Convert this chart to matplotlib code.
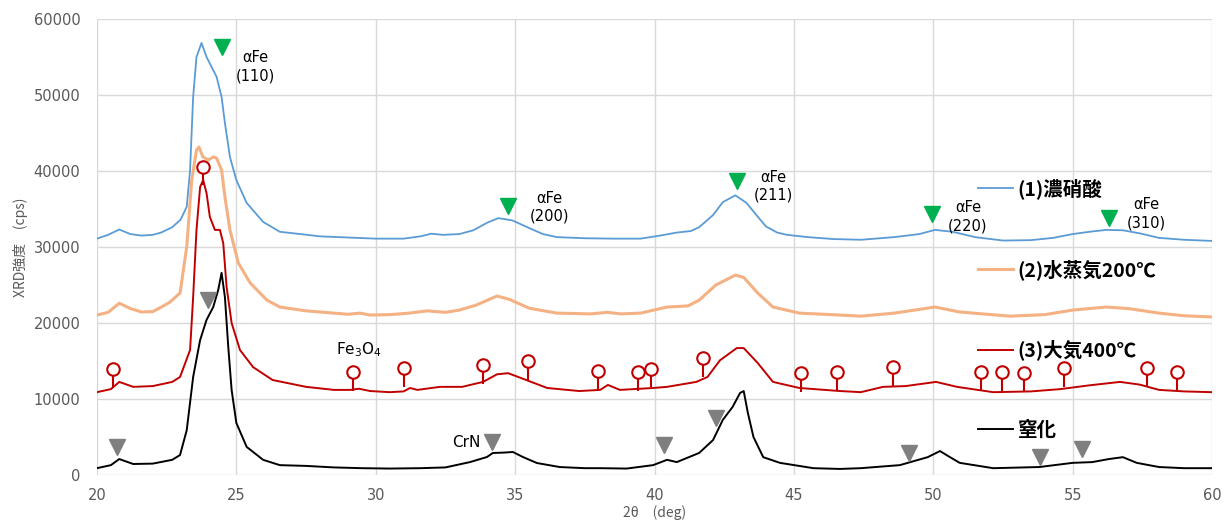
"""XRD patterns of nitrided / oxidised steel samples (2θ = 20-60 deg)."""

import matplotlib

matplotlib.use("Agg")
import matplotlib.pyplot as plt
from matplotlib.transforms import offset_copy

# (1) 濃硝酸
tt_1 = [20.0, 20.4, 20.8, 21.2, 21.6, 22.0, 22.3, 22.7, 23.0, 23.22, 23.34, 23.45, 23.57,
        23.75, 23.93, 24.11, 24.29, 24.47, 24.59, 24.77, 25.0, 25.37, 25.96, 26.56, 27.3,
        28.0, 29.0, 30.0, 31.0, 31.6, 32.0, 32.4, 33.0, 33.5, 34.0, 34.4, 34.9, 35.5, 36.0,
        36.5, 37.5, 38.5, 39.5, 40.2, 40.8, 41.3, 41.6, 42.1, 42.45, 42.9, 43.3, 43.7, 44.0,
        44.4, 44.75, 45.5, 46.4, 47.4, 48.6, 49.5, 50.06, 50.7, 51.5, 52.5, 53.5, 54.3, 55.0,
        55.6, 56.2, 56.8, 57.4, 58.1, 59.0, 60.0]
y_1 = [31100, 31600, 32300, 31700, 31500, 31600, 31900, 32600, 33600, 35300, 40130, 49750,
       55000, 56850, 55000, 53700, 52400, 49750, 46300, 41850, 38800, 35800, 33300, 32000,
       31700, 31400, 31250, 31100, 31100, 31400, 31750, 31600, 31700, 32200, 33200, 33800,
       33500, 32500, 31700, 31300, 31150, 31100, 31100, 31500, 31900, 32100, 32600, 34200,
       35900, 36800, 35800, 34000, 32700, 31900, 31600, 31300, 31050, 30950, 31300, 31700,
       32250, 32000, 31300, 30850, 30900, 31200, 31700, 32000, 32250, 32200, 31800, 31200,
       30950, 30800]

# (2) 水蒸気200℃
tt_2 = [20.0, 20.4, 20.8, 21.2, 21.6, 22.0, 22.26, 22.6, 22.98, 23.22, 23.4, 23.57, 23.66,
        23.8, 24.0, 24.17, 24.29, 24.47, 24.59, 24.77, 25.07, 25.5, 26.1, 26.56, 27.5, 28.5,
        29.0, 29.43, 29.8, 30.5, 31.2, 31.85, 32.5, 33.0, 33.6, 34.35, 34.8, 35.5, 36.5, 37.7,
        38.3, 38.8, 39.5, 40.45, 41.2, 41.6, 42.2, 42.9, 43.2, 43.7, 44.25, 45.2, 46.65, 47.4,
        48.6, 50.06, 50.95, 52.75, 54.0, 55.0, 56.2, 57.0, 58.1, 59.0, 60.0]
y_2 = [21050, 21400, 22600, 21900, 21450, 21500, 22000, 22700, 23950, 30000, 38800, 42750,
       43150, 41850, 41450, 41850, 41700, 40130, 36600, 32250, 27900, 25250, 23000, 22100,
       21600, 21300, 21150, 21300, 21050, 21100, 21300, 21600, 21400, 21700, 22350, 23550,
       23100, 21950, 21300, 21200, 21400, 21200, 21300, 22100, 22250, 23000, 25000, 26300,
       26000, 23950, 22100, 21300, 21050, 20900, 21300, 22100, 21450, 20900, 21100, 21700,
       22100, 21900, 21300, 20950, 20800]

# (3) 大気400℃
tt_3 = [20.0, 20.5, 20.8, 21.3, 22.0, 22.7, 22.98, 23.34, 23.45, 23.57, 23.7, 23.81, 23.93,
        24.05, 24.23, 24.41, 24.53, 24.65, 24.83, 25.13, 25.6, 26.3, 27.5, 28.5, 29.1, 29.4,
        29.8, 30.5, 31.0, 31.23, 31.5, 32.3, 33.1, 33.85, 34.35, 34.75, 35.4, 36.15, 37.3,
        38.05, 38.33, 38.76, 39.95, 40.45, 41.5, 41.9, 42.35, 42.95, 43.2, 43.7, 44.25, 45.2,
        46.65, 47.4, 48.2, 49.0, 50.1, 50.85, 52.15, 53.5, 54.55, 55.6, 56.7, 57.4, 58.1,
        59.0, 60.0]
y_3 = [10900, 11300, 12250, 11600, 11700, 12250, 12900, 16450, 23400, 32250, 37900, 38800,
       37100, 33950, 32250, 32250, 30500, 24750, 20000, 16450, 14200, 12500, 11600, 11200,
       11200, 11350, 11050, 10900, 11000, 11450, 11200, 11600, 11600, 12250, 13250, 13400,
       12500, 11450, 11050, 11200, 11850, 11200, 11450, 11600, 12250, 12900, 15100, 16700,
       16700, 14750, 12250, 11450, 11050, 10900, 11600, 11700, 12250, 11600, 10900, 11000,
       11300, 11800, 12250, 11900, 11200, 11000, 10900]

# 窒化
tt_4 = [20.0, 20.5, 20.8, 21.3, 22.0, 22.7, 22.98, 23.22, 23.45, 23.7, 23.93, 24.17, 24.35,
        24.47, 24.59, 24.71, 24.83, 25.0, 25.37, 25.96, 26.56, 27.5, 28.5, 29.5, 30.5, 31.6,
        32.5, 33.38, 33.99, 34.2, 34.6, 34.92, 35.28, 35.78, 36.6, 37.5, 38.05, 39.0, 39.95,
        40.45, 40.8, 41.6, 42.1, 42.45, 42.8, 43.07, 43.2, 43.35, 43.55, 43.9, 44.5, 45.7,
        46.65, 47.4, 48.8, 49.8, 50.24, 50.6, 50.95, 52.15, 53.8, 55.0, 55.7, 56.3, 56.8,
        57.3, 58.1, 59.0, 60.0]
y_4 = [900, 1300, 2100, 1450, 1500, 2000, 2630, 5900, 12900, 17750, 20400, 22100, 24350,
       26600, 23400, 16850, 11200, 6850, 3700, 2000, 1300, 1200, 1000, 900, 850, 900, 1000,
       1700, 2370, 2900, 2950, 3030, 2370, 1580, 1050, 900, 900, 850, 1300, 2000, 1700, 2900,
       4600, 7250, 8950, 10800, 11050, 8150, 5000, 2350, 1600, 900, 800, 900, 1300, 2350,
       3150, 2350, 1600, 900, 1050, 1600, 1700, 2100, 2350, 1600, 1050, 900, 900]

series_labels = ["(1)濃硝酸", "(2)水蒸気200℃", "(3)大気400℃", "窒化"]

# peak markers
fe_tt = [24.48, 34.74, 42.96, 49.95, 56.3]
fe_y = [56300, 35400, 38700, 34350, 33800]
fe_labels = ["αFe\n(110)", "αFe\n(200)", "αFe\n(211)", "αFe\n(220)", "αFe\n(310)"]

fe3o4_tt = [20.57, 23.80, 29.18, 31.01, 33.85, 35.46, 37.97, 39.41, 39.87, 41.74, 45.26,
            46.55, 48.56, 51.71, 52.47, 53.26, 54.69, 57.67, 58.74]
fe3o4_y = [13950, 40530, 13550, 14080, 14470, 15000, 13680, 13550, 13950, 15390, 13420,
           13550, 14210, 13550, 13550, 13420, 14080, 14080, 13550]

crn_tt = [20.72, 23.98, 34.17, 40.34, 42.21, 49.13, 53.83, 55.34]
crn_y = [3680, 23030, 4340, 3950, 7500, 2900, 2370, 3420]

CJK = ["Noto Sans CJK JP", "DejaVu Sans"]
GREY = "#595959"

fig = plt.figure(figsize=(12.29, 5.2), dpi=100)
ax = fig.add_axes([0.0789, 0.0865, 0.9073, 0.8770])

colors = ["#5B9BD5", "#F4B183", "#C00000", "#000000"]
widths = [1.3, 2.2, 1.4, 1.4]
handles = []
for tt, yy, c, lw, lab in zip([tt_1, tt_2, tt_3, tt_4], [y_1, y_2, y_3, y_4],
                              colors, widths, series_labels):
    (h,) = ax.plot(tt, yy, color=c, lw=lw, label=lab, zorder=2)
    handles.append(h)

# αFe (green down triangles) + labels
ax.plot(fe_tt, fe_y, ls="none", marker="v", ms=12, color="#00B050", zorder=4)
label_offsets = [(24, -14), (30, -1), (26, -4), (26, -2), (27, 3)]
for x, y, s, off in zip(fe_tt, fe_y, fe_labels, label_offsets):
    ax.annotate(s, (x, y), xytext=off, textcoords="offset points", ha="center",
                va="center", fontsize=10.5, linespacing=1.25, color="#000000")

# Fe3O4 (red lollipops)
stem_tr = offset_copy(ax.transData, fig=fig, y=-9, units="points")
ax.plot(fe3o4_tt, fe3o4_y, ls="none", marker="|", ms=9, mew=1.5, color="#C00000",
        transform=stem_tr, zorder=4)
ax.plot(fe3o4_tt, fe3o4_y, ls="none", marker="o", ms=9, mfc="white", mec="#C00000",
        mew=1.5, zorder=5)
ax.annotate("Fe$_3$O$_4$", (fe3o4_tt[2], fe3o4_y[2]), xytext=(4, 16),
            textcoords="offset points", ha="center", va="center", fontsize=11)

# CrN (grey down triangles)
ax.plot(crn_tt, crn_y, ls="none", marker="v", ms=12, color="#7F7F7F", zorder=4)
ax.annotate("CrN", (crn_tt[2], crn_y[2]), xytext=(-8, 0), textcoords="offset points",
            ha="right", va="center", fontsize=11)

ax.set_xlim(20, 60)
ax.set_ylim(0, 60000)
ax.set_xticks(range(20, 61, 5))
ax.set_yticks(range(0, 60001, 10000))
ax.grid(True, color="#D9D9D9", lw=1)
ax.set_axisbelow(True)
for sp in ax.spines.values():
    sp.set_visible(False)
ax.tick_params(axis="both", length=0, labelsize=10.5, labelcolor=GREY)
ax.tick_params(axis="y", pad=12)
ax.tick_params(axis="x", pad=9)

ax.set_xlabel("2θ\u3000(deg)", fontsize=10, color=GREY, family=CJK, labelpad=2)
ax.set_ylabel("XRD強度\u3000(cps)", fontsize=10, color=GREY, family=CJK, labelpad=4)

ax.legend(handles=handles, loc="upper left", bbox_to_anchor=(0.79, 0.651),
          frameon=False, borderpad=0, borderaxespad=0, handlelength=1.8,
          handletextpad=0.25, labelspacing=3.08,
          prop={"family": CJK, "weight": "bold", "size": 14})

fig.savefig("out.png", dpi=100)
